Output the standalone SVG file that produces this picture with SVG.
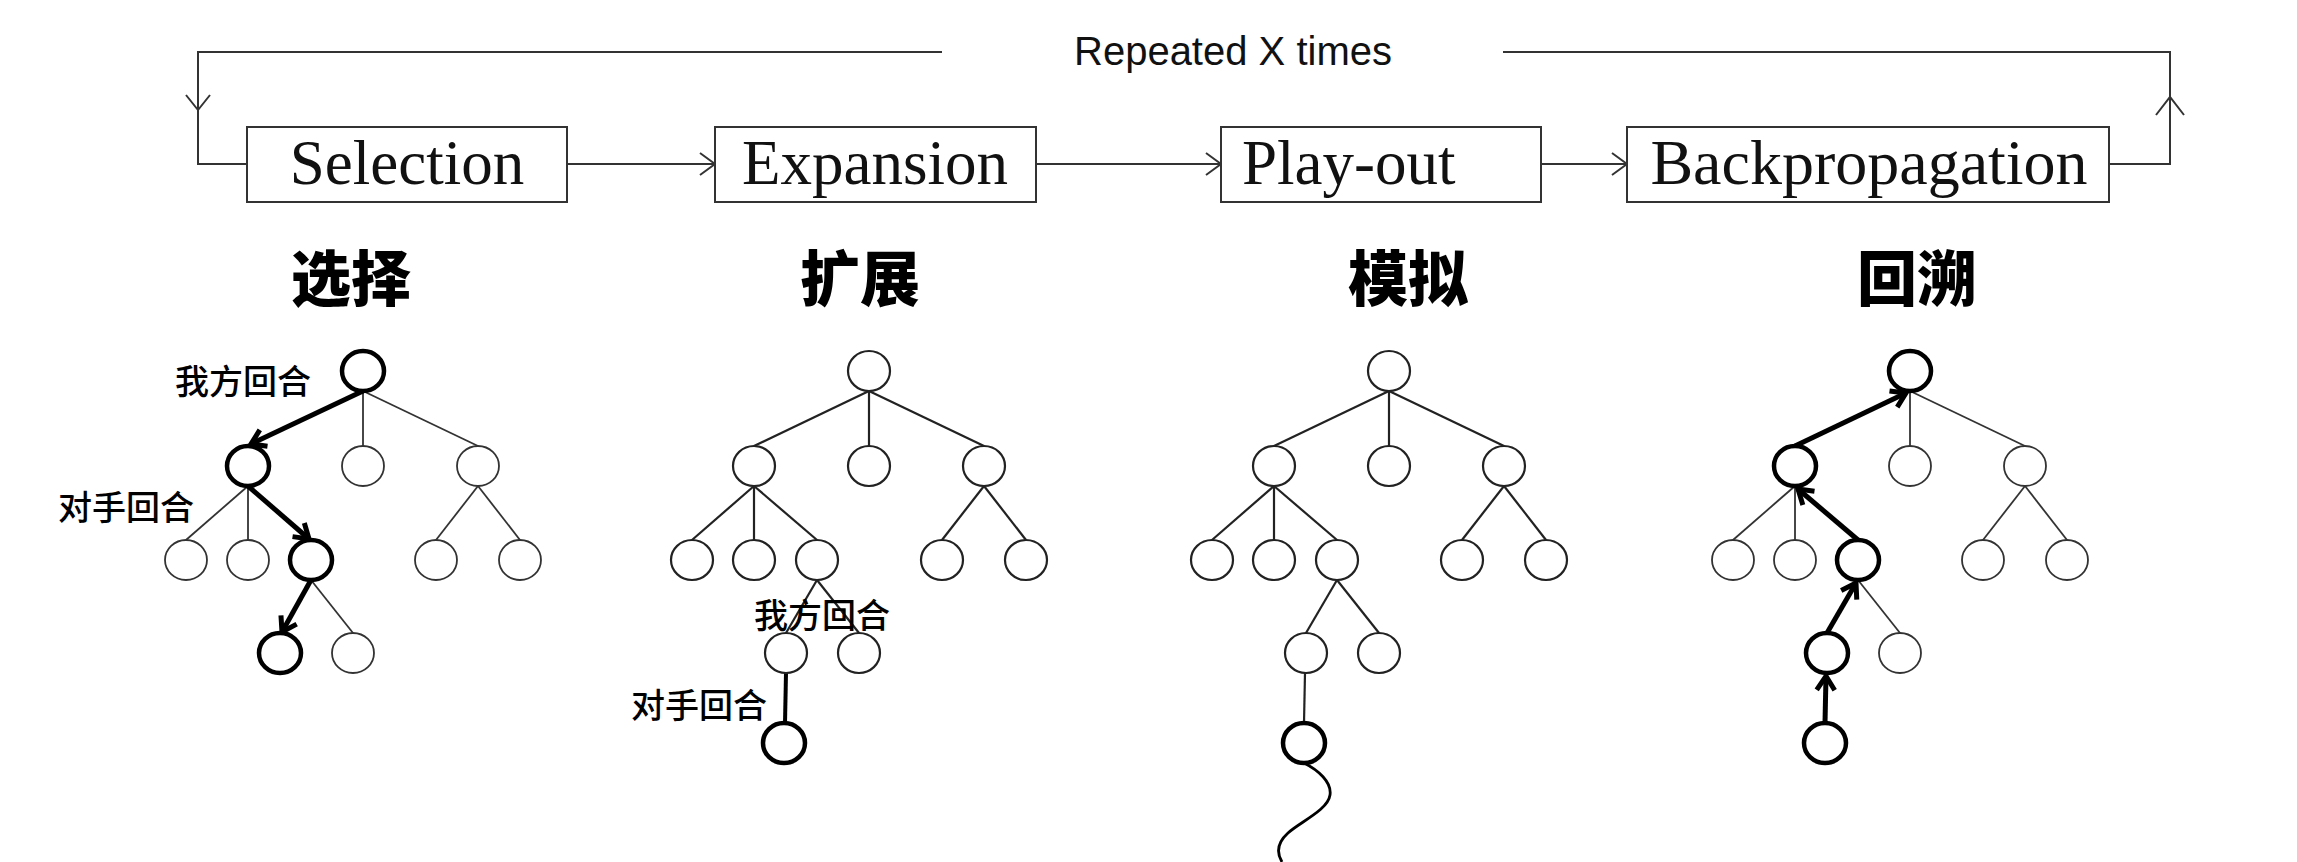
<svg xmlns="http://www.w3.org/2000/svg" width="2297" height="862" viewBox="0 0 2297 862">
<style>
.box{fill:#fff;stroke:#333;stroke-width:2}
.step{font-family:"Liberation Serif","Times New Roman",serif;font-size:63px;fill:#111}
.rep{font-family:"Liberation Sans",Arial,sans-serif;font-size:40px;fill:#111}
.title{font-family:"Noto Sans CJK SC","Noto Sans",sans-serif;font-size:60px;font-weight:900;fill:#000;text-anchor:middle}
.lab{font-family:"Noto Sans CJK SC","Noto Sans",sans-serif;font-size:34px;font-weight:500;fill:#000}
.flow{fill:none;stroke:#333;stroke-width:2}
.e{stroke:#333;stroke-width:1.8;fill:none}
.e2{stroke:#222;stroke-width:2.2;fill:none}
.e3{stroke:#000;stroke-width:4;fill:none}
.wave{stroke:#000;stroke-width:2.8;fill:none}
.et{stroke:#000;stroke-width:5;fill:none}
.n{fill:#fff;stroke:#333;stroke-width:1.8}
.n2{fill:#fff;stroke:#222;stroke-width:2.2}
.nt{fill:#fff;stroke:#000;stroke-width:4.5}
</style>
<defs>
<marker id="flowHead" markerUnits="userSpaceOnUse" markerWidth="20" markerHeight="26" viewBox="-17 -13 19 26" refX="0" refY="0" orient="auto">
<path d="M-15,-11 L0,0 L-15,11" fill="none" stroke="#333" stroke-width="2"/>
</marker>
<marker id="thickHead" markerUnits="userSpaceOnUse" markerWidth="24" markerHeight="26" viewBox="-18 -13 21 26" refX="0" refY="0" orient="auto">
<path d="M-14,-9 L0,0 L-14,9" fill="none" stroke="#000" stroke-width="5"/>
</marker>
</defs>
<rect width="2297" height="862" fill="#fff"/>

<g id="connectors">
<path class="flow" d="M942,52 H198 V164 H247"/>
<path class="flow" d="M186,95 L198,110 L210,95"/>
<path class="flow" d="M1503,52 H2170 V164 H2109"/>
<path class="flow" d="M2156,115 L2170,97 L2184,115"/>
<line class="flow" x1="567" y1="164" x2="715" y2="164" marker-end="url(#flowHead)"/>
<line class="flow" x1="1036" y1="164" x2="1221" y2="164" marker-end="url(#flowHead)"/>
<line class="flow" x1="1541" y1="164" x2="1627" y2="164" marker-end="url(#flowHead)"/>
</g>

<text id="repeat-label" class="rep" x="1074" y="65">Repeated X times</text>

<g id="step-selection"><rect class="box" x="247" y="127" width="320" height="75"/><text class="step" x="407" y="184" text-anchor="middle">Selection</text></g>
<g id="step-expansion"><rect class="box" x="715" y="127" width="321" height="75"/><text class="step" x="875" y="184" text-anchor="middle">Expansion</text></g>
<g id="step-playout"><rect class="box" x="1221" y="127" width="320" height="75"/><text class="step" x="1242" y="184">Play-out</text></g>
<g id="step-backprop"><rect class="box" x="1627" y="127" width="482" height="75"/><text class="step" x="1869" y="184" text-anchor="middle" style="font-size:64px">Backpropagation</text></g>

<g id="title-selection"><text class="title" x="351" y="301">选择</text></g>
<g id="title-expansion"><text class="title" x="860" y="301">扩展</text></g>
<g id="title-playout"><text class="title" x="1408" y="301">模拟</text></g>
<g id="title-backprop"><text class="title" x="1917" y="301">回溯</text></g>

<!-- Tree 1: Selection -->
<g id="tree-selection">
<g class="tree-edges">
<line class="e" x1="363" y1="391" x2="363" y2="446"/>
<line class="e" x1="363" y1="391" x2="478" y2="446"/>
<line class="e" x1="248" y1="486" x2="186" y2="540"/>
<line class="e" x1="248" y1="486" x2="248" y2="540"/>
<line class="e" x1="478" y1="486" x2="436" y2="540"/>
<line class="e" x1="478" y1="486" x2="520" y2="540"/>
<line class="e" x1="311" y1="580" x2="353" y2="633"/>
<line class="et" x1="363" y1="391" x2="251" y2="444" marker-end="url(#thickHead)"/>
<line class="et" x1="248" y1="486" x2="309" y2="539" marker-end="url(#thickHead)"/>
<line class="et" x1="311" y1="580" x2="282" y2="632" marker-end="url(#thickHead)"/>
</g>
<ellipse id="t1-root" class="nt" cx="363" cy="371" rx="21" ry="20"/>
<ellipse id="t1-a" class="nt" cx="248" cy="466" rx="21" ry="20"/>
<ellipse id="t1-b" class="n" cx="363" cy="466" rx="21" ry="20"/>
<ellipse id="t1-c" class="n" cx="478" cy="466" rx="21" ry="20"/>
<ellipse id="t1-a1" class="n" cx="186" cy="560" rx="21" ry="20"/>
<ellipse id="t1-a2" class="n" cx="248" cy="560" rx="21" ry="20"/>
<ellipse id="t1-a3" class="nt" cx="311" cy="560" rx="21" ry="20"/>
<ellipse id="t1-c1" class="n" cx="436" cy="560" rx="21" ry="20"/>
<ellipse id="t1-c2" class="n" cx="520" cy="560" rx="21" ry="20"/>
<ellipse id="t1-d1" class="nt" cx="280" cy="653" rx="21" ry="20"/>
<ellipse id="t1-d2" class="n" cx="353" cy="653" rx="21" ry="20"/>
<text class="lab" x="175" y="394">我方回合</text>
<text class="lab" x="58" y="520">对手回合</text>
</g>

<!-- Tree 2: Expansion -->
<g id="tree-expansion">
<g class="tree-edges">
<line class="e2" x1="869" y1="391" x2="754" y2="446"/>
<line class="e2" x1="869" y1="391" x2="869" y2="446"/>
<line class="e2" x1="869" y1="391" x2="984" y2="446"/>
<line class="e2" x1="754" y1="486" x2="692" y2="540"/>
<line class="e2" x1="754" y1="486" x2="754" y2="540"/>
<line class="e2" x1="754" y1="486" x2="817" y2="540"/>
<line class="e2" x1="984" y1="486" x2="942" y2="540"/>
<line class="e2" x1="984" y1="486" x2="1026" y2="540"/>
<line class="e2" x1="817" y1="580" x2="786" y2="633"/>
<line class="e2" x1="817" y1="580" x2="859" y2="633"/>
<line class="e3" x1="786" y1="673" x2="785" y2="723"/>
</g>
<ellipse class="n2" cx="869" cy="371" rx="21" ry="20"/>
<ellipse class="n2" cx="754" cy="466" rx="21" ry="20"/>
<ellipse class="n2" cx="869" cy="466" rx="21" ry="20"/>
<ellipse class="n2" cx="984" cy="466" rx="21" ry="20"/>
<ellipse class="n2" cx="692" cy="560" rx="21" ry="20"/>
<ellipse class="n2" cx="754" cy="560" rx="21" ry="20"/>
<ellipse class="n2" cx="817" cy="560" rx="21" ry="20"/>
<ellipse class="n2" cx="942" cy="560" rx="21" ry="20"/>
<ellipse class="n2" cx="1026" cy="560" rx="21" ry="20"/>
<ellipse class="n2" cx="786" cy="653" rx="21" ry="20"/>
<ellipse class="n2" cx="859" cy="653" rx="21" ry="20"/>
<ellipse class="nt" cx="784" cy="743" rx="21" ry="20"/>
<text class="lab" x="754" y="628">我方回合</text>
<text class="lab" x="631" y="718">对手回合</text>
</g>

<!-- Tree 3: Play-out -->
<g id="tree-playout">
<g class="tree-edges">
<line class="e2" x1="1389" y1="391" x2="1274" y2="446"/>
<line class="e2" x1="1389" y1="391" x2="1389" y2="446"/>
<line class="e2" x1="1389" y1="391" x2="1504" y2="446"/>
<line class="e2" x1="1274" y1="486" x2="1212" y2="540"/>
<line class="e2" x1="1274" y1="486" x2="1274" y2="540"/>
<line class="e2" x1="1274" y1="486" x2="1337" y2="540"/>
<line class="e2" x1="1504" y1="486" x2="1462" y2="540"/>
<line class="e2" x1="1504" y1="486" x2="1546" y2="540"/>
<line class="e2" x1="1337" y1="580" x2="1306" y2="633"/>
<line class="e2" x1="1337" y1="580" x2="1379" y2="633"/>
<line class="e2" x1="1305" y1="673" x2="1304" y2="723"/>
<path class="wave" d="M1304,763 C1318,770 1332,782 1330,795 C1328,810 1300,822 1288,833 C1278,842 1276,852 1282,862"/>
</g>
<ellipse class="n2" cx="1389" cy="371" rx="21" ry="20"/>
<ellipse class="n2" cx="1274" cy="466" rx="21" ry="20"/>
<ellipse class="n2" cx="1389" cy="466" rx="21" ry="20"/>
<ellipse class="n2" cx="1504" cy="466" rx="21" ry="20"/>
<ellipse class="n2" cx="1212" cy="560" rx="21" ry="20"/>
<ellipse class="n2" cx="1274" cy="560" rx="21" ry="20"/>
<ellipse class="n2" cx="1337" cy="560" rx="21" ry="20"/>
<ellipse class="n2" cx="1462" cy="560" rx="21" ry="20"/>
<ellipse class="n2" cx="1546" cy="560" rx="21" ry="20"/>
<ellipse class="n2" cx="1306" cy="653" rx="21" ry="20"/>
<ellipse class="n2" cx="1379" cy="653" rx="21" ry="20"/>
<ellipse class="nt" cx="1304" cy="743" rx="21" ry="20"/>
</g>

<!-- Tree 4: Backpropagation -->
<g id="tree-backprop">
<g class="tree-edges">
<line class="e" x1="1910" y1="391" x2="1910" y2="446"/>
<line class="e" x1="1910" y1="391" x2="2025" y2="446"/>
<line class="e" x1="1795" y1="486" x2="1733" y2="540"/>
<line class="e" x1="1795" y1="486" x2="1795" y2="540"/>
<line class="e" x1="2025" y1="486" x2="1983" y2="540"/>
<line class="e" x1="2025" y1="486" x2="2067" y2="540"/>
<line class="e" x1="1858" y1="580" x2="1900" y2="633"/>
<line class="et" x1="1795" y1="446" x2="1906" y2="393" marker-end="url(#thickHead)"/>
<line class="et" x1="1858" y1="540" x2="1798" y2="489" marker-end="url(#thickHead)"/>
<line class="et" x1="1827" y1="633" x2="1856" y2="583" marker-end="url(#thickHead)"/>
<line class="et" x1="1825" y1="723" x2="1826" y2="676" marker-end="url(#thickHead)"/>
</g>
<ellipse class="nt" cx="1910" cy="371" rx="21" ry="20"/>
<ellipse class="nt" cx="1795" cy="466" rx="21" ry="20"/>
<ellipse class="n" cx="1910" cy="466" rx="21" ry="20"/>
<ellipse class="n" cx="2025" cy="466" rx="21" ry="20"/>
<ellipse class="n" cx="1733" cy="560" rx="21" ry="20"/>
<ellipse class="n" cx="1795" cy="560" rx="21" ry="20"/>
<ellipse class="nt" cx="1858" cy="560" rx="21" ry="20"/>
<ellipse class="n" cx="1983" cy="560" rx="21" ry="20"/>
<ellipse class="n" cx="2067" cy="560" rx="21" ry="20"/>
<ellipse class="nt" cx="1827" cy="653" rx="21" ry="20"/>
<ellipse class="n" cx="1900" cy="653" rx="21" ry="20"/>
<ellipse class="nt" cx="1825" cy="743" rx="21" ry="20"/>
</g>
</svg>
